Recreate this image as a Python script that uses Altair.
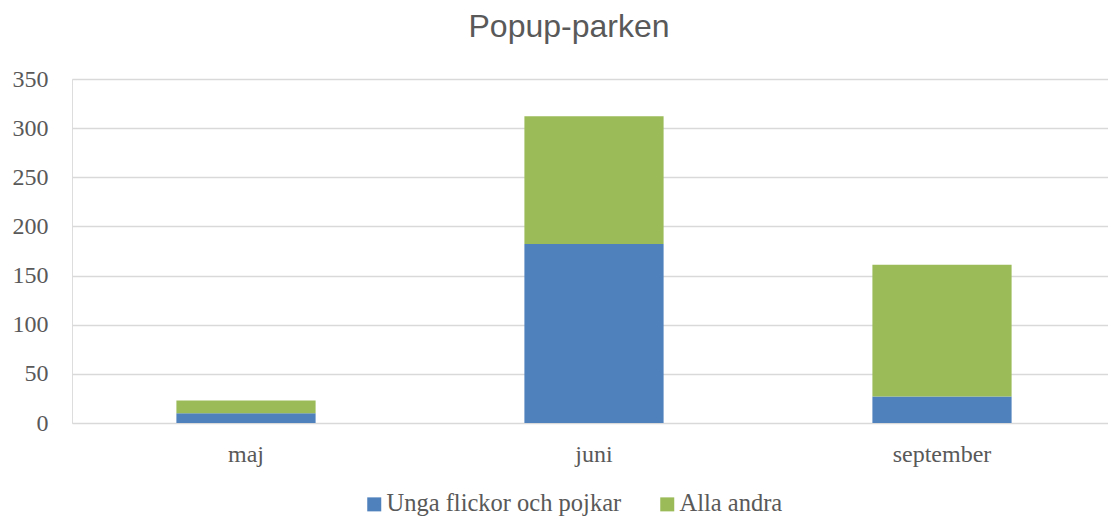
import altair as alt
import pandas as pd

# Visitors per month, split into two groups
months = ["maj", "juni", "september"]
unga = [10, 182, 27]
alla_andra = [13, 130, 134]
series = ["Unga flickor och pojkar", "Alla andra"]
colors = ["#4F81BD", "#9BBB59"]
y_ticks = [0, 50, 100, 150, 200, 250, 300, 350]

rows = []
for m, a, b in zip(months, unga, alla_andra):
    rows.append({"month": m, "group": series[0], "value": a, "order": 0})
    rows.append({"month": m, "group": series[1], "value": b, "order": 1})
df = pd.DataFrame(rows)

TEXT = "#595959"
SERIF = "Liberation Serif"

chart = (
    alt.Chart(df)
    .mark_bar()
    .encode(
        x=alt.X(
            "month:N",
            sort=months,
            title=None,
            scale=alt.Scale(paddingInner=0.6, paddingOuter=0.3, range=[0, 1044]),
            axis=alt.Axis(
                labelAngle=0,
                labelFont=SERIF,
                labelFontSize=24,
                labelColor=TEXT,
                labelBaseline="alphabetic",
                labelPadding=38,
                ticks=False,
                tickSize=0,
                domain=False,
                grid=False,
            ),
        ),
        y=alt.Y(
            "value:Q",
            stack="zero",
            title=None,
            scale=alt.Scale(domain=[0, 350], nice=False),
            axis=alt.Axis(
                values=y_ticks,
                labelFont=SERIF,
                labelFontSize=24,
                labelColor=TEXT,
                labelPadding=24,
                ticks=False,
                tickSize=0,
                domain=False,
                gridColor="#D9D9D9",
                gridWidth=1.5,
            ),
        ),
        color=alt.Color(
            "group:N",
            scale=alt.Scale(domain=series, range=colors),
            legend=alt.Legend(
                title=None,
                orient="none",
                direction="horizontal",
                legendX=290,
                legendY=413,
                symbolType="square",
                symbolSize=196,
                symbolStrokeWidth=0,
                labelFont=SERIF,
                labelFontSize=24.5,
                labelColor=TEXT,
                labelOffset=0,
                labelLimit=400,
                columnPadding=33,
                padding=0,
            ),
        ),
        order=alt.Order("order:Q"),
    )
    .properties(
        width=1036,
        height=344,
        title=alt.TitleParams(
            "Popup-parken",
            font="Liberation Sans",
            fontSize=32,
            fontWeight="normal",
            color=TEXT,
            anchor="middle",
            baseline="alphabetic",
            offset=5,
            dx=-21,
            dy=7,
        ),
        autosize=alt.AutoSizeParams(type="none"),
        padding={"left": 72, "top": 79, "right": 0, "bottom": 95},
    )
    .configure_view(stroke=None)
    .configure(background="white")
)

chart.save("out.html", embed_options={"renderer": "svg", "actions": False})
